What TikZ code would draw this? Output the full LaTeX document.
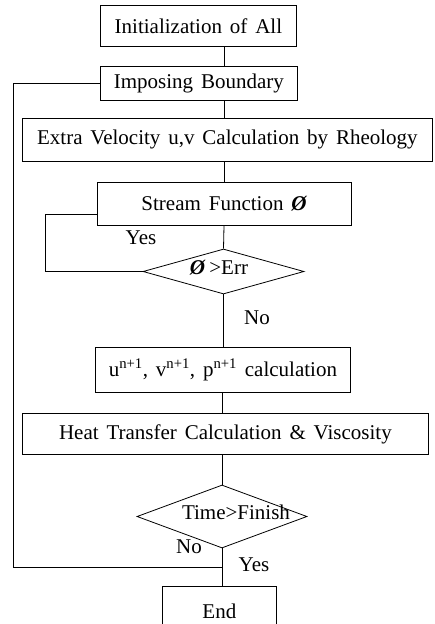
\documentclass[tikz,border=0pt]{standalone}
\usepackage{fontspec}
\setmainfont[WordSpace=1.5]{Liberation Serif}
\usetikzlibrary{shapes.geometric}
\begin{document}
\begin{tikzpicture}[x=1pt,y=-1pt,line width=0.8pt,
  box/.style={draw,rectangle,inner sep=0pt,anchor=north west,font=\fontsize{21}{24}\selectfont},
  dia/.style={draw,diamond,inner sep=0pt,aspect=1},
  lbl/.style={font=\fontsize{21}{24}\selectfont,inner sep=0pt}]
\clip (0,0) rectangle (434,624);
\coordinate (sp) at (224,0);
\node[box,minimum width=196pt,minimum height=41pt] (b1) at (100,5) {Initialization of All};
\node[box,minimum width=197pt,minimum height=34pt] (b2) at (100,66) {Imposing Boundary};
\node[box,minimum width=410pt,minimum height=43pt] (b3) at (22,118) {Extra Velocity u,v Calculation by Rheology};
\node[box,minimum width=254pt,minimum height=43pt] (b4) at (97,182) {Stream Function \textit{\textbf{Ø}}};
\node[dia,minimum width=161pt,minimum height=45pt] (d1) at (223.5,271.5) {};
\node[lbl] (t1) at (219,268) {\textit{\textbf{Ø}}\,>Err};
\node[box,minimum width=255pt,minimum height=45pt] (b5) at (95,347) {u\textsuperscript{n+1}, v\textsuperscript{n+1}, p\textsuperscript{n+1} calculation};
\node[box,minimum width=406pt,minimum height=41pt] (b6) at (22,413) {Heat Transfer Calculation \& Viscosity};
\node[dia,minimum width=170pt,minimum height=63pt] (d2) at (222,516.5) {};
\node[lbl] (t2) at (236,512) {Time>Finish};
\node[box,minimum width=114pt,minimum height=50pt] (b7) at (162,586) {End};
\node[lbl] (yes1) at (141,238) {Yes};
\node[lbl] (no1) at (257,318) {No};
\node[lbl] (no2) at (189,547) {No};
\node[lbl] (yes2) at (254,565) {Yes};
\coordinate (lx) at (13,0);
\coordinate (sx) at (45,0);
\coordinate (ret) at (222,567);
% main spine
\draw (b1.south -| sp) -- (b2.north -| sp);
\draw (b2.south -| sp) -- (b3.north -| sp);
\draw (b3.south -| sp) -- (b4.north -| sp);
\draw (b4.south -| sp) -- (d1.north);
\draw (d1.south) -- (b5.north -| d1.south);
\draw (b5.south -| d2.north) -- (b6.north -| d2.north);
\draw (b6.south -| d2.north) -- (d2.north);
\draw (d2.south) -- (b7.north -| d2.south);
% stream loop
\draw ([yshift=-10pt]b4.west) -| (sx |- d1.west) -- (d1.west);
% outer loop
\draw (b2.west) -| (lx |- ret) -- (ret);
\end{tikzpicture}
\end{document}
